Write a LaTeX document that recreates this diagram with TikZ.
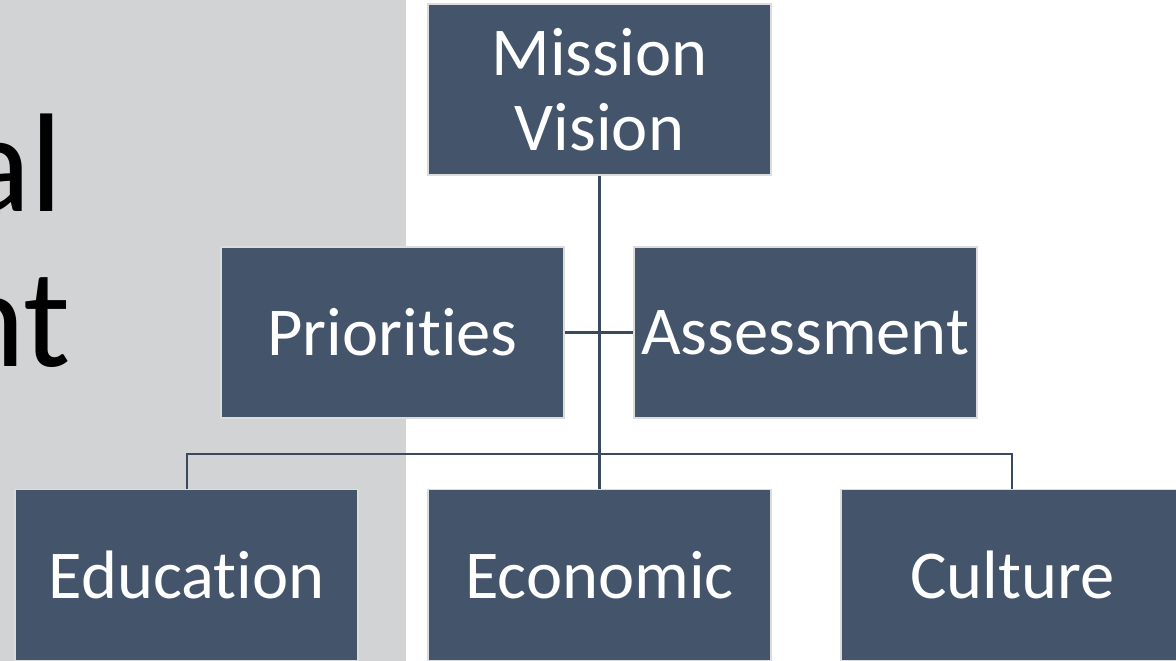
\documentclass[tikz,border=0pt]{standalone}
\usepackage{fontspec}
\setmainfont{Carlito}[Ligatures={NoCommon}]
\usepackage{tikz}
\usetikzlibrary{positioning, calc}
\definecolor{slatebox}{HTML}{44546A}
\definecolor{boxedge}{HTML}{DCDCDC}
\definecolor{panelgray}{HTML}{D1D3D5}
\definecolor{linkslate}{HTML}{3A4A5E}

\begin{document}
\begin{tikzpicture}[x=0.02cm, y=-0.02cm,
    orgbox/.style={rectangle, minimum width=6.86cm, minimum height=3.42cm,
      text centered, fill=slatebox, draw=boxedge, line width=1pt, align=center,
      text=white, font=\fontsize{39}{42.5}\selectfont, inner sep=0pt},
    titlepart/.style={anchor=base east, inner sep=0pt, font=\fontsize{80}{88}\selectfont},
    link/.style={draw=linkslate, line width=1.3pt}]

    \useasboundingbox (0,0) rectangle (1176,661);
    \clip (0,0) rectangle (1176,661);

    % grey title panel, cut at the left edge
    \fill [panelgray] (0,0) rectangle (406,661);
    \node (titleA) [titlepart] at (63,212) {al};
    \node (titleB) [titlepart] at (71,367) {nt};

    \node (mission) [orgbox] at (599.5,89.5) {Mission\\Vision};
    \node (prio) [orgbox] at (392.5,332.5) {Priorities};
    \node (assess) [orgbox, right=1.36cm of prio] {Assessment};
    \node (econ) [orgbox] at (599.5,575) {Economic};
    \node (edu) [orgbox, left=1.36cm of econ] {Education};
    \node (cult) [orgbox, right=1.36cm of econ] {Culture};

    \coordinate (bus) at (599.5,454);

    \draw [link] (mission.south) -- (econ.north);
    \draw [link] (prio.east) -- (assess.west);
    \draw [link] (edu.north) |- (bus) -| (cult.north);
\end{tikzpicture}
\end{document}
